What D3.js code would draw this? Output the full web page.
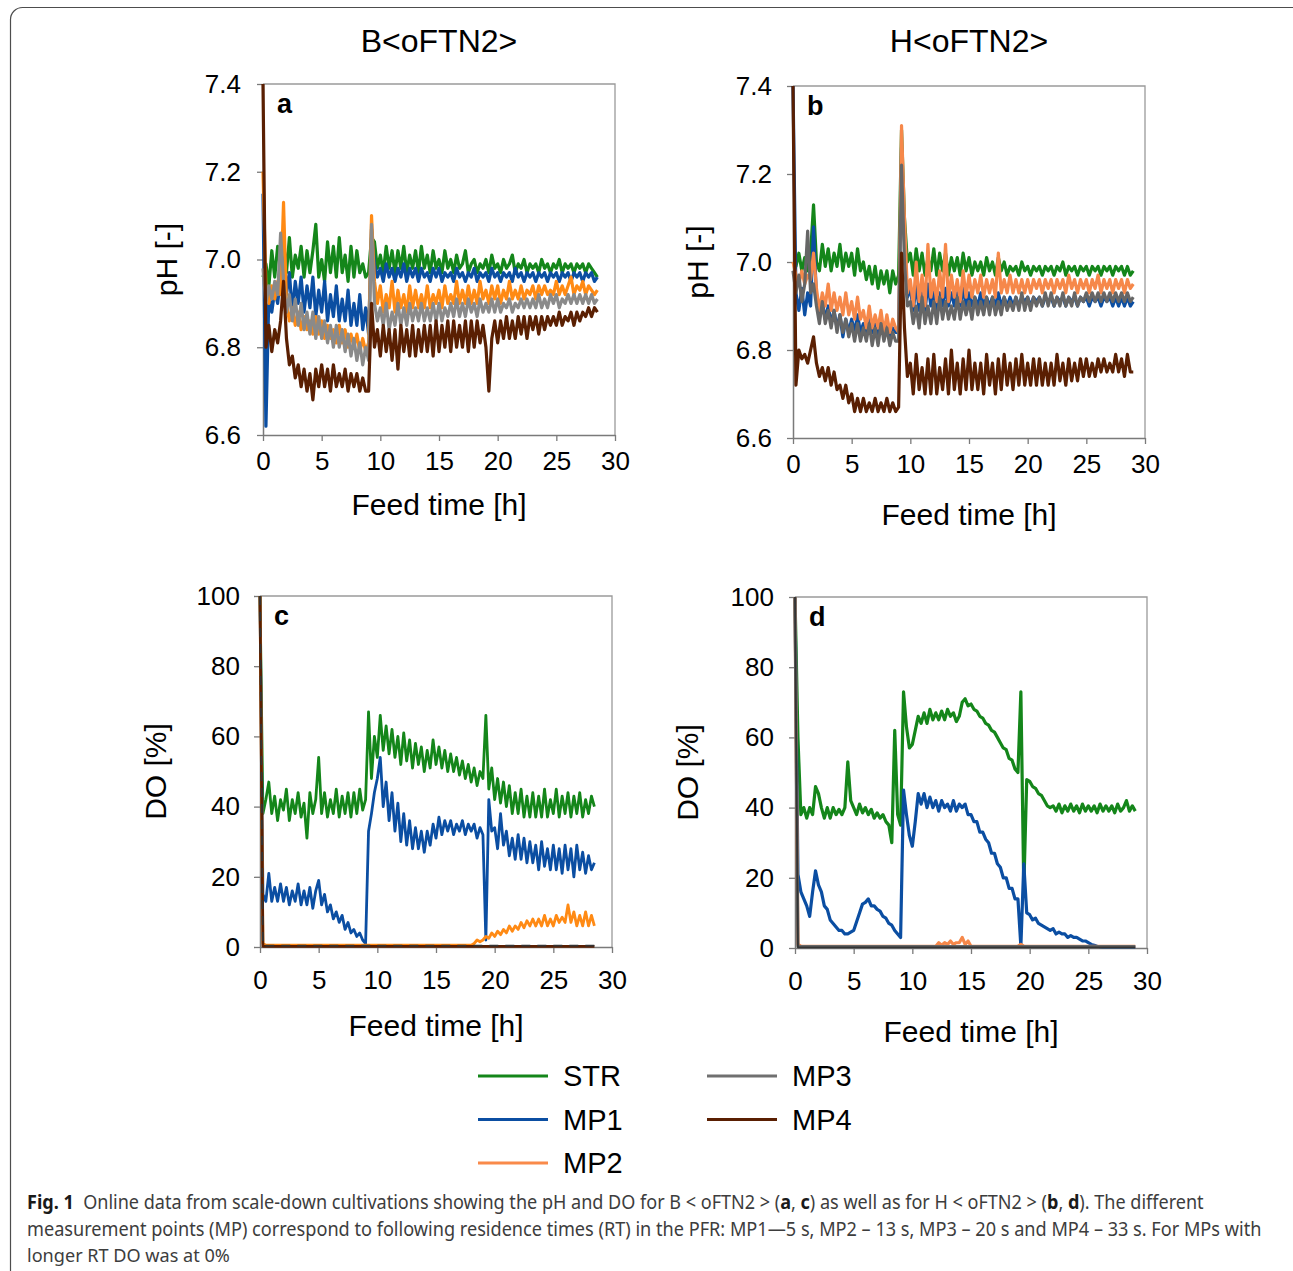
<!DOCTYPE html>
<html>
<head>
<meta charset="utf-8">
<script src="https://cdn.jsdelivr.net/npm/d3@7"></script>
<style>
  html, body { margin: 0; padding: 0; background: #fff; }
  svg { display: block; font-family: "Liberation Sans", Arial, sans-serif; }
</style>
</head>
<body>
<svg id="chart" width="1293" height="1271"></svg>
<script>
// Feed time grids [h]: B<oFTN2> runs to 28.5 h, H<oFTN2> to 29 h
const timeB = [
  0,0.25,0.5,0.75, 1,1.25,1.5,1.75, 2,2.25,2.5,2.75, 3,3.25,3.5,3.75, 4,4.25,4.5,4.75,
  5,5.25,5.5,5.75, 6,6.25,6.5,6.75, 7,7.25,7.5,7.75, 8,8.25,8.5,8.75, 9,9.25,9.5,9.75,
  10,10.25,10.5,10.75, 11,11.25,11.5,11.75, 12,12.25,12.5,12.75, 13,13.25,13.5,13.75, 14,14.25,14.5,14.75,
  15,15.25,15.5,15.75, 16,16.25,16.5,16.75, 17,17.25,17.5,17.75, 18,18.25,18.5,18.75, 19,19.25,19.5,19.75,
  20,20.25,20.5,20.75, 21,21.25,21.5,21.75, 22,22.25,22.5,22.75, 23,23.25,23.5,23.75, 24,24.25,24.5,24.75,
  25,25.25,25.5,25.75, 26,26.25,26.5,26.75, 27,27.25,27.5,27.75, 28,28.25,28.5
];
const timeH = [
  0,0.25,0.5,0.75, 1,1.25,1.5,1.75, 2,2.25,2.5,2.75, 3,3.25,3.5,3.75, 4,4.25,4.5,4.75,
  5,5.25,5.5,5.75, 6,6.25,6.5,6.75, 7,7.25,7.5,7.75, 8,8.25,8.5,8.75, 9,9.25,9.5,9.75,
  10,10.25,10.5,10.75, 11,11.25,11.5,11.75, 12,12.25,12.5,12.75, 13,13.25,13.5,13.75, 14,14.25,14.5,14.75,
  15,15.25,15.5,15.75, 16,16.25,16.5,16.75, 17,17.25,17.5,17.75, 18,18.25,18.5,18.75, 19,19.25,19.5,19.75,
  20,20.25,20.5,20.75, 21,21.25,21.5,21.75, 22,22.25,22.5,22.75, 23,23.25,23.5,23.75, 24,24.25,24.5,24.75,
  25,25.25,25.5,25.75, 26,26.25,26.5,26.75, 27,27.25,27.5,27.75, 28,28.25,28.5,28.75, 29
];
// MP3/MP4 DO sit at 0 % after the start
const flatB = [0, 0.25, 28.5];
const flatH = [0, 0.25, 29];

const xTicks = [0, 5, 10, 15, 20, 25, 30];
const phTicks = [6.6, 6.8, 7.0, 7.2, 7.4];
const doTicks = [0, 20, 40, 60, 80, 100];

// ---- (a) pH, B<oFTN2>
const phB_STR = [
  6.96,6.99,6.94,7.02, 6.96,7.03,6.98,7.04, 6.97,7.05,6.96,7.01, 6.98,7.03,6.96,7.02, 6.97,7.02,7.08,6.96,
  7.00,6.95,7.04,6.97, 7.03,6.96,7.05,6.97, 7.01,6.95,7.03,6.96, 7.02,6.97,6.99,6.96, 6.97,7.05,7.04,6.98,
  7.01,6.97,7.03,6.98, 7.02,6.97,7.02,6.98, 7.03,6.97,7.01,6.98, 7.02,6.97,7.03,6.98, 7.01,6.97,7.02,6.98,
  7.00,6.97,7.02,6.98, 7.00,6.97,7.01,6.98, 6.99,7.02,6.97,6.99, 7.00,6.97,6.99,6.98, 7.00,6.97,7.01,6.98,
  6.99,6.97,7.00,6.98, 6.99,7.01,6.97,6.99, 6.98,7.00,6.97,6.99, 6.98,6.99,6.97,7.00, 6.98,6.99,6.97,6.99,
  6.98,7.00,6.97,6.99, 6.98,6.99,6.97,6.99, 6.98,6.99,6.97,6.99, 6.98,6.97,6.96
];
const phB_MP1 = [
  7.15,6.62,6.92,6.88, 6.93,6.90,6.96,7.06, 6.92,6.97,6.88,6.95, 6.90,6.96,6.88,6.94, 6.89,6.96,6.87,6.93,
  6.88,6.95,6.86,6.92, 6.87,6.94,6.86,6.91, 6.86,6.93,6.85,6.90, 6.85,6.92,6.84,6.89, 6.83,7.07,6.99,6.96,
  6.98,6.95,6.99,6.96, 6.98,6.95,6.98,6.96, 6.99,6.95,6.98,6.96, 6.98,6.95,6.98,6.96, 6.97,6.95,6.98,6.96,
  6.98,6.95,6.97,6.96, 6.97,6.95,6.98,6.96, 6.97,6.95,6.97,6.96, 6.98,6.95,6.97,6.96, 6.97,6.95,6.98,6.96,
  6.97,6.95,6.97,6.96, 6.97,6.95,6.98,6.96, 6.97,6.95,6.97,6.96, 6.97,6.95,6.97,6.96, 6.97,6.95,6.97,6.96,
  6.97,6.95,6.97,6.96, 6.97,6.95,6.97,6.96, 6.97,6.95,6.97,6.96, 6.97,6.95,6.96
];
const phB_MP2 = [
  7.20,6.93,6.90,6.94, 6.91,6.95,6.92,7.13, 6.90,6.86,6.89,6.85, 6.88,6.84,6.87,6.84, 6.86,6.83,6.87,6.83,
  6.86,6.82,6.85,6.82, 6.84,6.81,6.85,6.81, 6.84,6.80,6.83,6.80, 6.83,6.79,6.82,6.79, 6.81,7.10,6.95,6.90,
  6.94,6.88,6.92,6.89, 6.95,6.88,6.93,6.89, 6.92,6.88,6.94,6.89, 6.93,6.89,6.92,6.89, 6.94,6.89,6.92,6.90,
  6.93,6.89,6.94,6.90, 6.92,6.90,6.95,6.90, 6.93,6.90,6.94,6.90, 6.93,6.90,6.95,6.91, 6.93,6.90,6.94,6.91,
  6.94,6.90,6.93,6.91, 6.95,6.91,6.93,6.91, 6.94,6.91,6.93,6.92, 6.94,6.91,6.94,6.92, 6.94,6.92,6.93,6.92,
  6.95,6.92,6.94,6.92, 6.94,6.96,6.92,6.94, 6.93,6.95,6.92,6.94, 6.93,6.92,6.93
];
const phB_MP3 = [
  6.98,6.90,6.94,6.91, 6.95,6.92,7.06,6.95, 6.88,6.92,6.86,6.91, 6.85,6.90,6.84,6.88, 6.83,6.88,6.82,6.87,
  6.82,6.86,6.81,6.85, 6.80,6.85,6.80,6.84, 6.79,6.83,6.78,6.82, 6.77,6.81,6.76,6.80, 6.77,7.08,6.90,6.86,
  6.89,6.85,6.90,6.84, 6.88,6.85,6.90,6.85, 6.89,6.85,6.90,6.86, 6.89,6.86,6.90,6.86, 6.89,6.86,6.90,6.86,
  6.90,6.86,6.89,6.87, 6.90,6.87,6.91,6.87, 6.90,6.87,6.91,6.88, 6.90,6.87,6.91,6.88, 6.90,6.88,6.91,6.88,
  6.91,6.88,6.90,6.89, 6.91,6.88,6.90,6.89, 6.91,6.89,6.91,6.89, 6.91,6.89,6.92,6.89, 6.91,6.89,6.92,6.90,
  6.92,6.89,6.91,6.90, 6.92,6.90,6.92,6.90, 6.92,6.90,6.92,6.90, 6.92,6.90,6.91
];
const phB_MP4 = [
  7.40,6.80,6.85,6.79, 6.84,6.81,6.86,6.95, 6.82,6.76,6.78,6.73, 6.76,6.71,6.75,6.70, 6.74,6.68,6.75,6.71,
  6.76,6.71,6.75,6.70, 6.76,6.71,6.74,6.71, 6.75,6.70,6.74,6.71, 6.74,6.70,6.73,6.70, 6.70,6.90,6.80,6.84,
  6.78,6.85,6.79,6.84, 6.77,6.84,6.75,6.85, 6.79,6.84,6.78,6.85, 6.78,6.84,6.79,6.85, 6.79,6.85,6.78,6.86,
  6.79,6.85,6.80,6.86, 6.79,6.86,6.80,6.85, 6.80,6.86,6.79,6.86, 6.80,6.86,6.81,6.85, 6.80,6.70,6.82,6.86,
  6.81,6.86,6.82,6.87, 6.82,6.86,6.82,6.87, 6.83,6.87,6.82,6.87, 6.84,6.87,6.83,6.87, 6.84,6.87,6.85,6.87,
  6.85,6.88,6.85,6.87, 6.86,6.88,6.85,6.88, 6.86,6.88,6.87,6.89, 6.87,6.89,6.88
];

// ---- (b) pH, H<oFTN2>
const phH_STR = [
  7.00,6.99,7.02,6.98, 7.01,6.98,7.02,7.13, 7.00,6.98,7.04,6.99, 7.03,6.98,7.02,6.99, 7.04,6.98,7.02,6.99,
  7.02,6.97,7.03,6.98, 7.00,6.96,6.99,6.95, 6.99,6.94,6.98,6.95, 6.98,6.93,6.98,6.95, 6.97,7.30,7.10,7.00,
  7.02,6.97,7.03,6.98, 7.02,6.97,7.01,6.98, 7.03,6.97,7.02,6.98, 7.02,6.97,7.01,6.98, 7.01,6.97,7.02,6.98,
  7.01,6.97,7.00,6.98, 7.00,6.97,7.01,6.98, 7.00,6.97,7.01,6.98, 7.00,6.97,6.99,6.98, 6.99,6.97,7.00,6.98,
  6.99,6.97,6.99,6.98, 6.99,6.97,6.99,6.98, 6.99,6.97,6.99,6.98, 7.00,6.97,6.99,6.98, 6.99,6.97,6.99,6.98,
  6.99,6.97,6.99,6.98, 6.99,6.97,6.99,6.98, 6.99,6.97,6.99,6.98, 6.99,6.97,6.99,6.97, 6.98
];
const phH_MP1 = [
  7.40,6.93,6.89,6.94, 6.88,6.93,6.90,7.08, 6.92,6.88,6.91,6.87, 6.90,6.86,6.89,6.85, 6.88,6.83,6.87,6.84,
  6.87,6.84,6.88,6.84, 6.86,6.84,6.87,6.84, 6.86,6.83,6.86,6.84, 6.86,6.83,6.85,6.84, 6.84,7.26,7.05,6.92,
  6.94,6.89,6.95,6.89, 6.93,6.89,6.95,6.90, 6.94,6.89,6.93,6.90, 6.94,6.90,6.93,6.90, 6.93,6.90,6.94,6.90,
  6.93,6.90,6.92,6.90, 6.93,6.90,6.92,6.90, 6.92,6.90,6.93,6.90, 6.92,6.90,6.92,6.90, 6.92,6.90,6.92,6.91,
  6.92,6.90,6.92,6.91, 6.92,6.90,6.92,6.91, 6.92,6.90,6.92,6.91, 6.92,6.90,6.92,6.91, 6.92,6.90,6.92,6.91,
  6.92,6.90,6.92,6.91, 6.92,6.90,6.92,6.91, 6.92,6.90,6.92,6.90, 6.92,6.90,6.92,6.90, 6.91
];
const phH_MP2 = [
  7.00,6.97,6.95,6.98, 6.95,6.97,6.96,7.02, 6.94,6.89,6.93,6.90, 6.95,6.89,6.93,6.89, 6.92,6.88,6.93,6.88,
  6.91,6.87,6.92,6.87, 6.89,6.85,6.90,6.85, 6.88,6.85,6.89,6.84, 6.88,6.84,6.87,6.85, 6.84,7.31,7.10,6.93,
  6.96,6.90,7.00,6.91, 6.97,6.90,7.04,6.92, 6.96,6.91,6.98,6.92, 7.04,6.91,6.97,6.92, 6.96,6.91,6.98,6.92,
  6.97,6.92,6.96,6.93, 6.97,6.92,6.96,6.93, 6.96,6.92,7.02,6.93, 6.96,6.93,6.97,6.93, 6.96,6.93,6.96,6.93,
  6.96,6.93,6.96,6.94, 6.96,6.93,6.96,6.94, 6.96,6.93,6.96,6.94, 6.96,6.93,6.97,6.94, 6.96,6.93,6.96,6.94,
  6.96,6.93,6.96,6.94, 6.97,6.93,6.96,6.94, 6.96,6.93,6.96,6.94, 6.96,6.93,6.96,6.94, 6.95
];
const phH_MP3 = [
  6.98,6.93,6.97,6.91, 6.95,7.07,6.93,6.95, 6.90,6.86,6.91,6.86, 6.89,6.85,6.89,6.84, 6.88,6.84,6.87,6.83,
  6.86,6.82,6.86,6.82, 6.85,6.82,6.86,6.81, 6.85,6.81,6.86,6.82, 6.85,6.81,6.84,6.82, 6.82,7.22,7.00,6.90,
  6.91,6.86,6.90,6.85, 6.92,6.86,6.90,6.86, 6.91,6.86,6.92,6.87, 6.91,6.87,6.90,6.87, 6.92,6.87,6.91,6.88,
  6.91,6.87,6.92,6.88, 6.91,6.88,6.92,6.88, 6.92,6.88,6.91,6.88, 6.92,6.89,6.91,6.89, 6.92,6.89,6.93,6.89,
  6.92,6.89,6.92,6.90, 6.92,6.90,6.93,6.90, 6.93,6.90,6.92,6.90, 6.93,6.90,6.92,6.90, 6.93,6.90,6.92,6.91,
  6.93,6.91,6.93,6.91, 6.93,6.91,6.93,6.91, 6.93,6.91,6.93,6.91, 6.93,6.91,6.93,6.91, 6.92
];
const phH_MP4 = [
  7.40,6.72,6.80,6.78, 6.79,6.77,6.80,6.83, 6.77,6.74,6.76,6.73, 6.76,6.72,6.75,6.71, 6.72,6.69,6.72,6.68,
  6.70,6.66,6.69,6.66, 6.69,6.66,6.68,6.66, 6.69,6.66,6.68,6.66, 6.69,6.66,6.68,6.66, 6.67,7.02,6.85,6.74,
  6.77,6.70,6.79,6.71, 6.76,6.70,6.78,6.70, 6.79,6.70,6.76,6.71, 6.78,6.70,6.80,6.71, 6.77,6.70,6.78,6.71,
  6.80,6.71,6.77,6.71, 6.77,6.70,6.79,6.72, 6.77,6.70,6.78,6.71, 6.79,6.72,6.77,6.71, 6.78,6.72,6.79,6.72,
  6.77,6.72,6.78,6.72, 6.78,6.72,6.77,6.72, 6.77,6.72,6.79,6.73, 6.77,6.72,6.78,6.73, 6.77,6.73,6.78,6.74,
  6.78,6.74,6.77,6.74, 6.78,6.75,6.78,6.75, 6.77,6.75,6.79,6.75, 6.78,6.74,6.79,6.75, 6.75
];

// ---- (c) DO, B<oFTN2>
const doB_STR = [
  100,38,42,47, 38,43,36,42, 39,45,36,42, 38,44,37,41, 31,44,38,42,
  54,38,44,37, 42,38,45,37, 43,38,44,37, 44,38,45,39, 42,67,48,60,
  54,66,56,63, 55,62,54,60, 52,61,53,59, 51,58,52,57, 50,56,51,59,
  52,57,51,56, 50,55,50,54, 49,53,48,52, 47,51,46,50, 48,66,45,51,
  42,48,41,47, 40,46,38,44, 38,45,37,43, 37,44,37,43, 37,45,37,42,
  38,45,37,43, 38,44,37,43, 38,44,37,42, 38,43,40
];
const doB_MP1 = [
  100,15,13,21, 13,17,13,18, 13,17,12,16, 13,18,12,16, 12,17,11,16,
  19,12,15,10, 12,8,10,7, 9,5,7,4, 5,3,4,2, 1,33,38,44,
  48,54,40,47, 36,44,33,41, 30,38,29,36, 28,34,28,33, 27,33,29,35,
  31,37,32,36, 33,36,32,35, 33,36,32,35, 33,35,31,34, 32,2,42,33,
  34,28,38,29, 33,26,31,25, 32,25,31,24, 30,24,29,22, 30,23,28,22,
  29,22,28,21, 29,22,28,20, 29,22,27,21, 26,22,24
];
const doB_MP2 = [
  100,1,0.5,0.5, 0.5,0.5,0.5,0.5, 0.5,0.5,0.5,0.5, 0.5,0.5,0.5,0.5, 0.5,0.5,0.5,0.5,
  0.5,0.5,0.5,0.5, 0.5,0.5,0.5,0.5, 0.5,0.5,0.5,0.5, 0.5,0.5,0.5,0.5, 0.5,0.5,0.5,0.5,
  0.5,0.5,0.5,0.5, 0.5,0.5,0.5,0.5, 0.5,0.5,0.5,0.5, 0.5,0.5,0.5,0.5, 0.5,0.5,0.5,0.5,
  0.5,0.5,0.5,0.5, 0.5,0.5,0.5,0.5, 0.5,0.5,0.5,0.5, 0.5,1,2,1.5, 2,3,2.5,4,
  3,4.5,3.5,5, 4,6,4.5,6, 5,7,5.5,7.5, 6,8,6,8, 6,9,6,8,
  6,9,7,8.5, 7,12,7,10, 6,9,6,10, 6,9,6
];
const doB_MP3 = [100, 0.4, 0.4];
const doB_MP4 = [100, 0.2, 0.2];

// ---- (d) DO, H<oFTN2>
const doH_STR = [
  100,60,38,40, 37,40,38,46, 44,40,37,40, 37,40,38,39.5, 38,40,53,42,
  40,38,41,38.5, 40,38,39.5,37, 38.5,37,38,36, 35,30,62,38, 35,73,63,57,
  58,62,66,64, 67,64,68,65, 67,65,67.5,65, 68,66,67,64.5, 66,70,71,69,
  69.5,68,67.5,66, 65.5,64,63.5,62, 61.5,60,58.5,57, 56.5,54,53.5,51, 50,73,17,48,
  47.5,46,45.5,44, 43.5,42,40.5,40, 40.5,39,41,38.5, 40.5,39,41,39, 40.5,38.5,41,39,
  40.5,39,40.5,38.5, 41,39,40.5,39, 40.5,38.5,41,39, 40,42,39,40.5, 39
];
const doH_MP1 = [
  100,21,16,14, 12,9,16,22, 18,16,12,11, 8,7,6,5, 5,4,4,4.5,
  5,7.5,10,12.5, 13,14,12,12, 11,10.5,9,8.5, 7,6.5,5,4, 3,45,38,32,
  29,36,44,41, 44,40,43,40, 42,39,42,40, 41,39,42,39, 41,40,41,38,
  38,36,36,33, 33,31,30,27, 27,24,23,20, 20,17,17,14, 14,0.5,24,10,
  9.5,8,8.5,7, 6.5,6,5.5,5, 5.5,4,4.5,4, 4,3,3.5,3, 3,2.5,2,2,
  1.5,1,0.8,0.5, 0.4,0.3,0.3,0.3, 0.3,0.3,0.3,0.3, 0.3,0.3,0.3,0.3, 0.3
];
const doH_MP2 = [
  100,1,0.5,0.5, 0.5,0.5,0.5,0.5, 0.5,0.5,0.5,0.5, 0.5,0.5,0.5,0.5, 0.5,0.5,0.5,0.5,
  0.5,0.5,0.5,0.5, 0.5,0.5,0.5,0.5, 0.5,0.5,0.5,0.5, 0.5,0.5,0.5,0.5, 0.5,0.5,0.5,0.5,
  0.5,0.5,0.5,0.5, 0.5,0.5,0.5,0.5, 0.5,1.5,0.8,1.5, 1,2,1,1.5, 1.5,3,1,2,
  0.5,0.5,0.5,0.5, 0.5,0.5,0.5,0.5, 0.5,0.5,0.5,0.5, 0.5,0.5,0.5,0.5, 0.5,1,0.5,0.5,
  0.5,0.5,0.5,0.5, 0.5,0.5,0.5,0.5, 0.5,0.5,0.5,0.5, 0.5,0.5,0.5,0.5, 0.5,0.5,0.5,0.5,
  0.5,0.5,0.5,0.5, 0.5,0.5,0.5,0.5, 0.5,0.5,0.5,0.5, 0.5,0.5,0.5,0.5, 0.5
];
const doH_MP3 = [100, 0.4, 0.4];
const doH_MP4 = [100, 0.2, 0.2];

// colours, the H panels use a softer orange / darker grey like the source
const colorsB = { STR: "#14861a", MP1: "#0b4ea2", MP2: "#ff8a14", MP3: "#8a8a8a", MP4: "#5a1f02" };
const colorsH = { STR: "#14861a", MP1: "#0b4ea2", MP2: "#f6884a", MP3: "#666666", MP4: "#5a1f02" };

const panels = [
  { key: "a", x0: 263, x1: 615, yTop: 84, yBot: 435, dom: [6.6, 7.4], yTicks: phTicks, fmt: ".1f",
    yLabel: "pH [-]", yLabelX: 177, xLabelY: 515, xPad: 11, yPad: 16, colors: colorsB, sw: 3.2,
    series: [
      { name: "STR", t: timeB, v: phB_STR }, { name: "MP1", t: timeB, v: phB_MP1 },
      { name: "MP2", t: timeB, v: phB_MP2 }, { name: "MP3", t: timeB, v: phB_MP3 },
      { name: "MP4", t: timeB, v: phB_MP4 }] },
  { key: "b", x0: 793, x1: 1145, yTop: 86, yBot: 438, dom: [6.6, 7.4], yTicks: phTicks, fmt: ".1f",
    yLabel: "pH [-]", yLabelX: 708, xLabelY: 525, xPad: 11, yPad: 15, colors: colorsH, sw: 3.2,
    series: [
      { name: "STR", t: timeH, v: phH_STR }, { name: "MP1", t: timeH, v: phH_MP1 },
      { name: "MP2", t: timeH, v: phH_MP2 }, { name: "MP3", t: timeH, v: phH_MP3 },
      { name: "MP4", t: timeH, v: phH_MP4 }] },
  { key: "c", x0: 260, x1: 612, yTop: 596, yBot: 947, dom: [0, 100], yTicks: doTicks, fmt: "d",
    yLabel: "DO [%]", yLabelX: 166, xLabelY: 1036, xPad: 18, yPad: 14, colors: colorsB, sw: 2.8,
    series: [
      { name: "STR", t: timeB, v: doB_STR }, { name: "MP1", t: timeB, v: doB_MP1 },
      { name: "MP2", t: timeB, v: doB_MP2 }, { name: "MP4", t: flatB, v: doB_MP4 },
      { name: "MP3", t: flatB, v: doB_MP3, dash: "9 7", dark: true }] },
  { key: "d", x0: 795, x1: 1147, yTop: 597, yBot: 948, dom: [0, 100], yTicks: doTicks, fmt: "d",
    yLabel: "DO [%]", yLabelX: 698, xLabelY: 1042, xPad: 18, yPad: 15, colors: colorsH, sw: 3.2,
    series: [
      { name: "STR", t: timeH, v: doH_STR }, { name: "MP1", t: timeH, v: doH_MP1 },
      { name: "MP2", t: timeH, v: doH_MP2 }, { name: "MP3", t: flatH, v: doH_MP3 },
      { name: "MP4", t: flatH, v: doH_MP4, dark: true }] }
];

const svg = d3.select("#chart");

// outer figure frame (rounded, runs off the bottom/right edge)
svg.append("rect").attr("x", 10.5).attr("y", 7.5).attr("width", 1300).attr("height", 1300)
  .attr("rx", 12).attr("fill", "none").attr("stroke", "#4d4d4d").attr("stroke-width", 1.2);

svg.append("text").attr("x", 439).attr("y", 52).attr("text-anchor", "middle")
  .attr("font-size", 32).text("B<oFTN2>");
svg.append("text").attr("x", 969).attr("y", 52).attr("text-anchor", "middle")
  .attr("font-size", 32).text("H<oFTN2>");

panels.forEach((p) => {
  const x = d3.scaleLinear().domain([0, 30]).range([p.x0, p.x1]);
  const y = d3.scaleLinear().domain(p.dom).range([p.yBot, p.yTop]);
  const g = svg.append("g");

  // light top/right box lines
  g.append("path").attr("d", `M${p.x0},${p.yTop}H${p.x1}V${p.yBot}`)
    .attr("fill", "none").attr("stroke", "#9a9a9a").attr("stroke-width", 1.3);

  const gx = g.append("g").attr("transform", `translate(0,${p.yBot})`)
    .call(d3.axisBottom(x).tickValues(xTicks).tickSize(6).tickSizeOuter(0)
      .tickPadding(p.xPad).tickFormat(d3.format("d")));
  const gy = g.append("g").attr("transform", `translate(${p.x0},0)`)
    .call(d3.axisLeft(y).tickValues(p.yTicks).tickSize(6).tickSizeOuter(0)
      .tickPadding(p.yPad).tickFormat(d3.format(p.fmt)));
  [gx, gy].forEach((a) => {
    a.select(".domain").attr("stroke", "#7a7a7a").attr("stroke-width", 1.5);
    a.selectAll(".tick line").attr("stroke", "#7a7a7a").attr("stroke-width", 1.3);
    a.selectAll(".tick text").attr("font-size", 26).attr("fill", "#000")
      .attr("font-family", '"Liberation Sans", Arial, sans-serif');
  });

  const line = d3.line().x((d) => x(d[0])).y((d) => y(d[1]));
  p.series.forEach((s) => {
    if (s.t.length !== s.v.length) console.warn(p.key, s.name, s.t.length, s.v.length);
    const pts = s.v.map((v, i) => [s.t[i], v]);
    g.append("path").datum(pts).attr("d", line)
      .attr("fill", "none").attr("stroke", s.dark ? "#333" : p.colors[s.name])
      .attr("stroke-width", s.dark ? 1.8 : p.sw).attr("stroke-linejoin", "round")
      .attr("stroke-dasharray", s.dash || null);
  });

  g.append("text").attr("x", p.x0 + 14).attr("y", p.yTop + 29)
    .attr("font-size", 27).attr("font-weight", "bold").text(p.key);

  g.append("text").attr("x", (p.x0 + p.x1) / 2).attr("y", p.xLabelY)
    .attr("text-anchor", "middle").attr("font-size", 30).text("Feed time [h]");
  g.append("text").attr("transform", `translate(${p.yLabelX},${(p.yTop + p.yBot) / 2}) rotate(-90)`)
    .attr("text-anchor", "middle").attr("font-size", 30).text(p.yLabel);
});

// legend, two columns
const legendCols = [[478, ["STR", "MP1", "MP2"]], [707, ["MP3", "MP4"]]];
const legendColors = { STR: "#14861a", MP1: "#0b4ea2", MP2: "#f98a4a", MP3: "#707070", MP4: "#5a1f02" };
legendCols.forEach(([lx, names]) => {
  names.forEach((n, i) => {
    const ly = 1076 + i * 43.5;
    svg.append("line").attr("x1", lx).attr("x2", lx + 70).attr("y1", ly).attr("y2", ly)
      .attr("stroke", legendColors[n]).attr("stroke-width", 3);
    svg.append("text").attr("x", lx + 85).attr("y", ly + 10).attr("font-size", 29).text(n);
  });
});

// caption: each line squeezed horizontally to the width of the narrow journal font
const cap = svg.append("g").attr("font-family", '"Noto Sans", "Open Sans", sans-serif')
  .attr("font-size", 19).attr("fill", "#3d3d3d");
const capLines = [
  { y: 1209, len: 1178, parts: [["Fig. 1", true], ["\u00a0\u00a0Online data from scale-down cultivations showing the pH and DO for B < oFTN2 > (", false],
    ["a", true], [", ", false], ["c", true], [") as well as for H < oFTN2 > (", false], ["b", true], [", ", false],
    ["d", true], ["). The different", false]] },
  { y: 1236, len: 1235, parts: [["measurement points (MP) correspond to following residence times (RT) in the PFR: MP1\u20145 s, MP2 \u2013 13 s, MP3 \u2013 20 s and MP4 \u2013 33 s. For MPs with", false]] },
  { y: 1262, len: 203, parts: [["longer RT DO was at 0%", false]] }
];
capLines.forEach((l) => {
  const lg = cap.append("g");
  const t = lg.append("text").attr("x", 0).attr("y", 0);
  l.parts.forEach(([s, b]) => {
    t.append("tspan").attr("font-weight", b ? "bold" : null).attr("fill", b ? "#1a1a1a" : null).text(s);
  });
  const w = t.node().getComputedTextLength() || l.len;
  lg.attr("transform", `translate(27,${l.y}) scale(${l.len / w},1)`);
});
</script>
</body>
</html>
